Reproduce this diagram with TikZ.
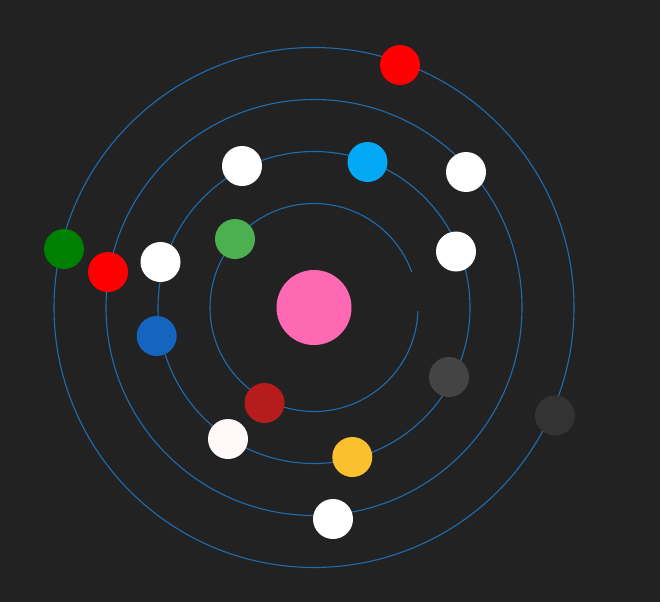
\documentclass[tikz,border=0pt]{standalone}
\usepackage{tikz}
\usetikzlibrary{positioning}
\definecolor{bgdark}{HTML}{222222}
\definecolor{orbitblue}{HTML}{1F6DAE}
\definecolor{sunpink}{HTML}{FF69B4}
\definecolor{darkgreen}{HTML}{008000}
\definecolor{lightgreen}{HTML}{4CAF50}
\definecolor{skyblue}{HTML}{03A9F4}
\definecolor{deepblue}{HTML}{1565C0}
\definecolor{darkred}{HTML}{B71C1C}
\definecolor{amber}{HTML}{FBC02D}
\definecolor{snowwhite}{HTML}{FFF9F9}
\definecolor{grayA}{HTML}{444444}
\definecolor{grayB}{HTML}{333333}

\begin{document}
\begin{tikzpicture}[x=1pt, y=-1pt,
    planet/.style={circle, inner sep=0pt, minimum size=40pt},
    orbit/.style={draw=orbitblue, line width=1.1pt}]
  \fill[bgdark] (0,0) rectangle (660,602);
  \useasboundingbox (0,0) rectangle (660,602);

  \coordinate (c) at (314,307.5);

  % orbits
  \draw[orbit] (c) ++(-2:104pt) arc[start angle=-2, end angle=-340, radius=104pt];
  \draw[orbit] (c) circle[radius=156pt];
  \draw[orbit] (c) circle[radius=208pt];
  \draw[orbit] (c) ++(-93.6:260pt) arc[start angle=-93.6, end angle=-462.3, radius=260pt];

  % sun
  \node[circle, inner sep=0pt, minimum size=75pt, fill=sunpink] (sun) at (c) {};

  % planets
  \node[planet, fill=red] (p1) at (400,65) {};
  \node[planet, fill=white] (p2) at (242,166) {};
  \node[planet, fill=skyblue] (p3) at (367.5,162) {};
  \node[planet, fill=white] (p4) at (466,172) {};
  \node[planet, fill=lightgreen] (p5) at (235,239) {};
  \node[planet, fill=white] (p6) at (456,251.5) {};
  \node[planet, fill=darkgreen] (p7) at (64,249) {};
  \node[planet, fill=red] (p8) at (108,272) {};
  \node[planet, fill=white] (p9) at (160.5,262) {};
  \node[planet, fill=deepblue] (p10) at (156.7,336) {};
  \node[planet, fill=grayA] (p11) at (449,377) {};
  \node[planet, fill=grayB] (p12) at (555,415.5) {};
  \node[planet, fill=darkred] (p13) at (264.5,403) {};
  \node[planet, fill=snowwhite] (p14) at (228,439) {};
  \node[planet, fill=amber] (p15) at (352.3,457) {};
  \node[planet, fill=white] (p16) at (333,519) {};
\end{tikzpicture}
\end{document}
